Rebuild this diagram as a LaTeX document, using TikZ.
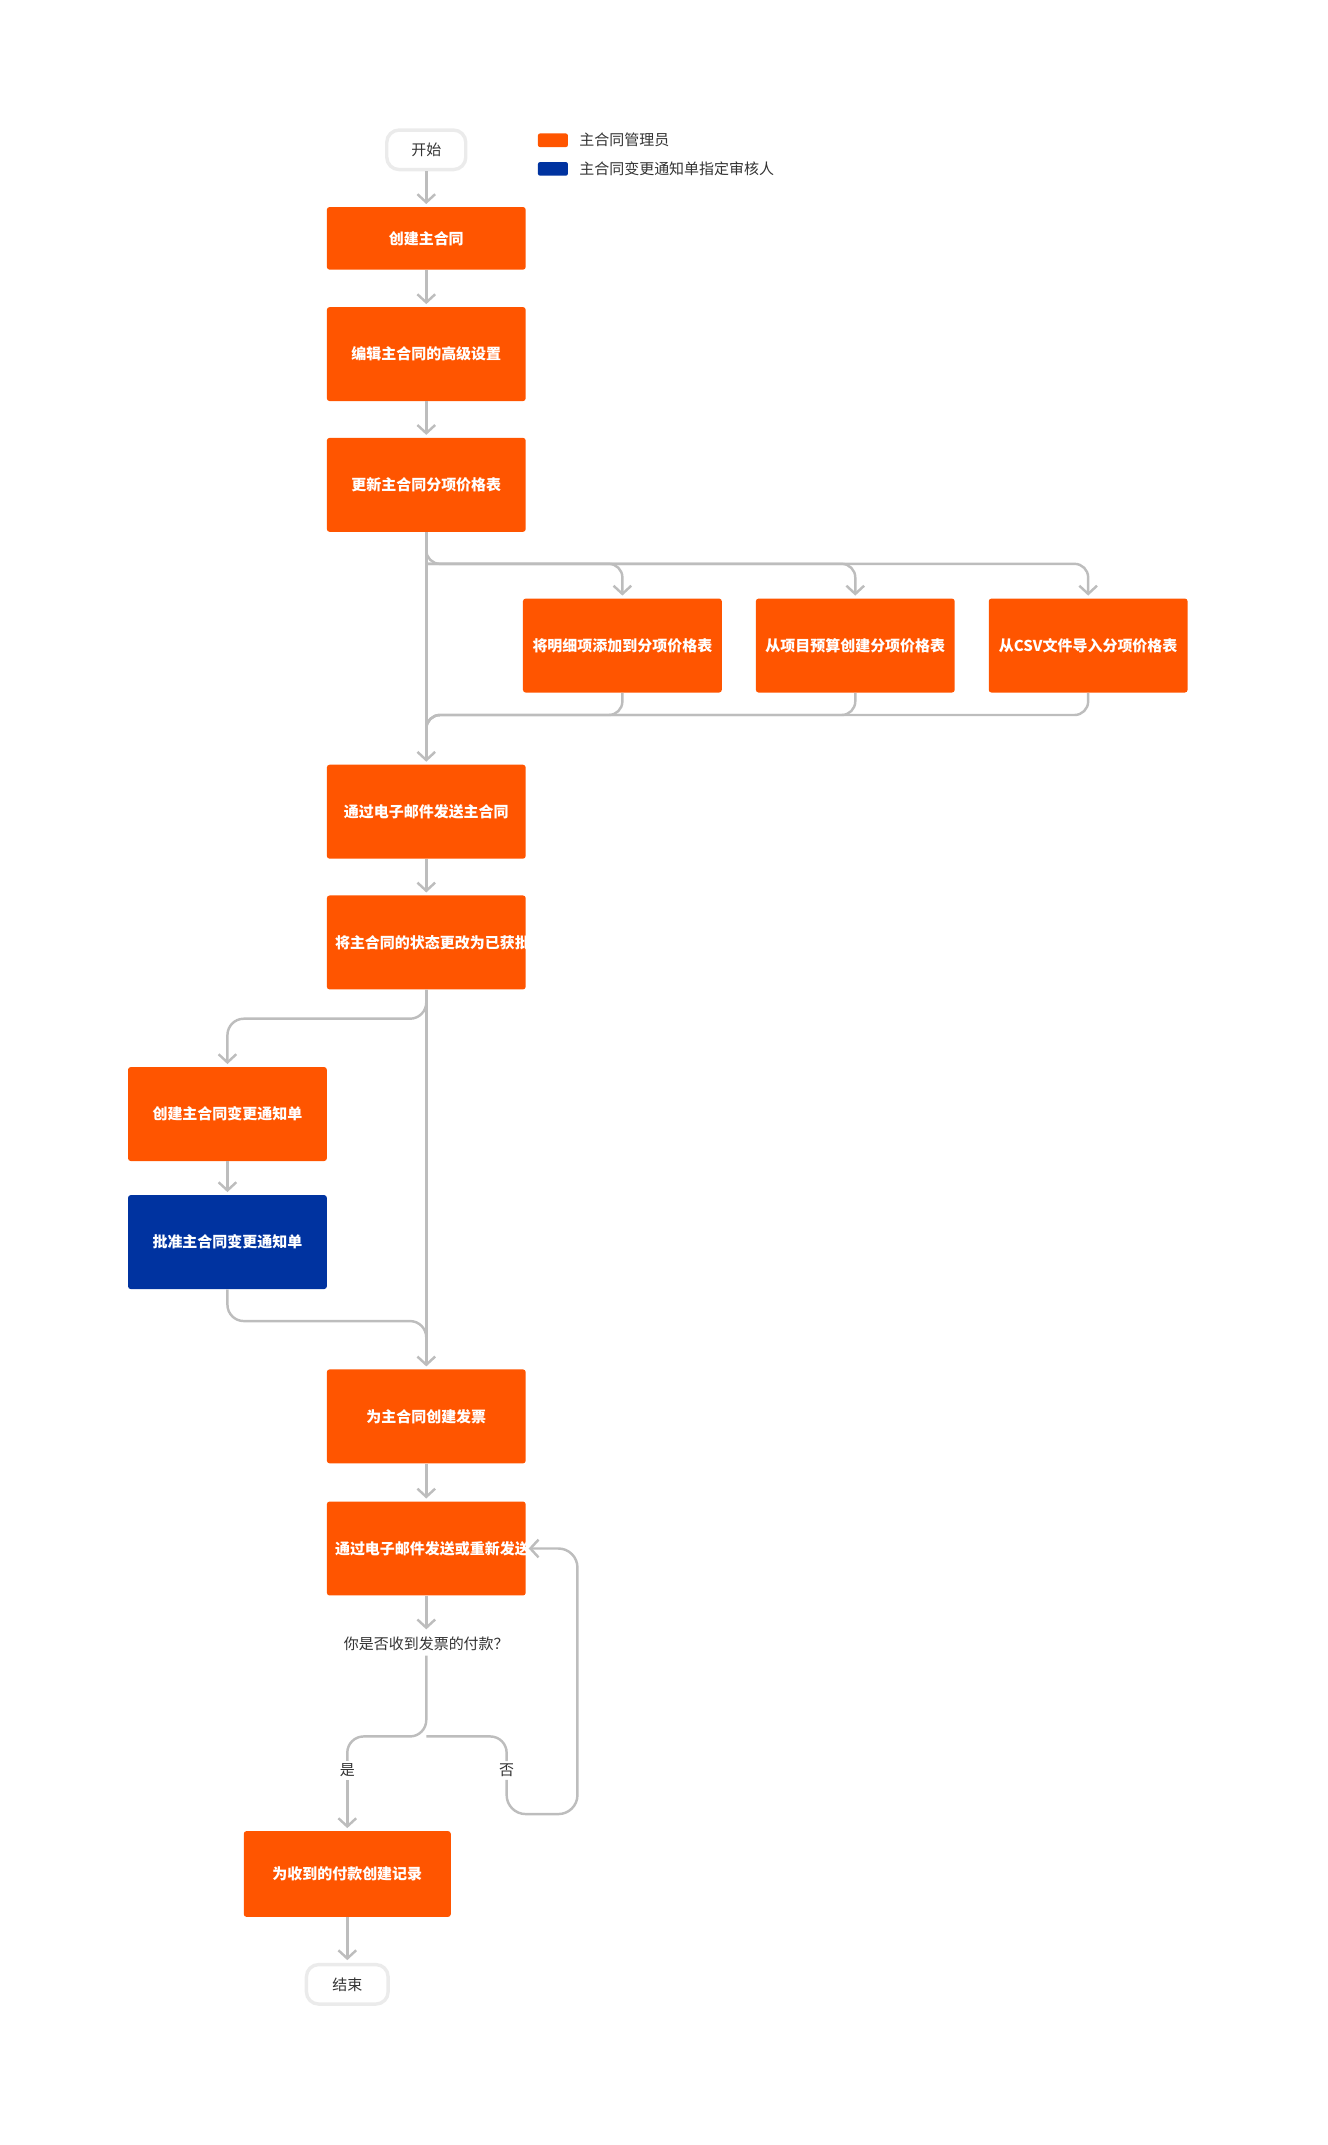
\documentclass[tikz,border=0pt]{standalone}
\usepackage{fontspec}
\setmainfont{Noto Sans CJK SC}
\usetikzlibrary{arrows.meta,positioning}
\definecolor{mgr}{HTML}{FF5500}
\definecolor{rev}{HTML}{0033A0}
\definecolor{wire}{HTML}{BDBDBD}
\definecolor{txt}{HTML}{333333}

\begin{document}
\begin{tikzpicture}[
        x = 1pt, y = -1pt,
        font = \fontsize{11}{15}\selectfont,
        box/.style = {fill=mgr, text=white, font=\fontsize{11}{17}\selectfont\bfseries,
            minimum width=146pt, minimum height=69pt, text width=134pt,
            align=center, rounded corners=2pt, inner sep=0pt},
        revbox/.style = {box, fill=rev},
        term/.style = {draw=black!8, line width=2.5pt, rounded corners=9pt,
            minimum width=58pt, minimum height=29pt, text=txt},
        line/.style = {draw=wire, line width=1.8pt},
        link/.style = {line, -{Straight Barb[length=6pt,width=13pt,line width=1.8pt]}, shorten >=2pt},
        key/.style = {minimum width=22pt, minimum height=10pt, rounded corners=1.5pt, inner sep=0pt}
    ]
    \useasboundingbox (0,0) rectangle (975,1575);

    % legend
    \node[key, fill=mgr] (kmgr) at (406,103) {};
    \node[key, fill=rev] (krev) at (406,124) {};
    \node[right=8pt of kmgr, text=txt, inner sep=0pt] {主合同管理员};
    \node[right=8pt of krev, text=txt, inner sep=0pt] {主合同变更通知单指定审核人};

    % main column
    \node[term] (start) at (313,110) {开始};
    \node[box, minimum height=46pt] (create) at (313,175) {创建主合同};
    \node[box] (adv) at (313,260) {编辑主合同的高级设置};
    \node[box] (price) at (313,356) {更新主合同分项价格表};
    \node[box] (r1) at (457,474) {将明细项添加到分项价格表};
    \node[box] (r2) at (628,474) {从项目预算创建分项价格表};
    \node[box] (r3) at (799,474) {从CSV文件导入分项价格表};
    \node[box] (mail) at (313,596) {通过电子邮件发送主合同};
    \node[box] (approved) at (313,692) {将主合同的状态更改为已获批};
    \node[box] (cco) at (167,818) {创建主合同变更通知单};
    \node[revbox] (okcco) at (167,912) {批准主合同变更通知单};
    \node[box] (invoice) at (313,1040) {为主合同创建发票};
    \node[box] (send) at (313,1137) {通过电子邮件发送或重新发送发票};
    \node[text=txt] (ask) at (313,1207) {你是否收到发票的付款？};
    \node[text=txt, inner sep=2pt] (yes) at (255,1300) {是};
    \node[text=txt, inner sep=2pt] (no) at (372,1300) {否};
    \node[box, minimum width=152pt, minimum height=63pt] (record) at (255,1376) {为收到的付款创建记录};
    \node[term, minimum width=60pt] (end) at (255,1457) {结束};

    \coordinate (fork1) at (313,414);
    \coordinate (join1) at (313,525);
    \coordinate (fork2) at (313,748);
    \coordinate (join2) at (313,970);
    \coordinate (fork3) at (313,1275);
    \coordinate (loop) at (424,1332);

    \draw[link] (start) -- (create);
    \draw[link] (create) -- (adv);
    \draw[link] (adv) -- (price);
    \draw[link] (price) -- (mail);
    \draw[link, rounded corners=10pt] (price.south) -- (fork1) -| (r1.north);
    \draw[link, rounded corners=10pt] (fork1) -| (r2.north);
    \draw[link, rounded corners=10pt] (fork1) -| (r3.north);
    \draw[line, rounded corners=10pt] (r1.south) |- (join1) -- ++(0,18);
    \draw[line, rounded corners=10pt] (r2.south) |- (join1) -- ++(0,18);
    \draw[line, rounded corners=10pt] (r3.south) |- (join1) -- ++(0,18);
    \draw[link] (mail) -- (approved);
    \draw[link] (approved) -- (invoice);
    \draw[link, rounded corners=12pt] (approved.south) -- (fork2) -| (cco.north);
    \draw[link] (cco) -- (okcco);
    \draw[line, rounded corners=12pt] (okcco.south) |- (join2) -- ++(0,18);
    \draw[link] (invoice) -- (send);
    \draw[link] (send) -- (ask);
    \draw[line, rounded corners=12pt] (ask.south) -- (fork3) -| (yes.north);
    \draw[line, rounded corners=12pt] (fork3) -| (no.north);
    \draw[link] (yes) -- (record);
    \draw[link, rounded corners=14pt] (no.south) |- (loop) |- (send.east);
    \draw[link] (record) -- (end);
\end{tikzpicture}
\end{document}
